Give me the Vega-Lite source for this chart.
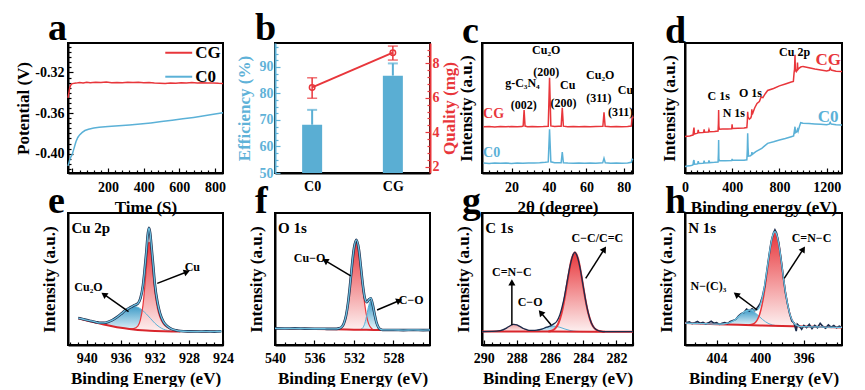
{
"$schema": "https://vega.github.io/schema/vega-lite/v6.json",
"padding": {"left": 13, "top": 8, "right": 0, "bottom": 0},
"background": "white",
"config": {
  "font": "Liberation Serif",
  "view": {"stroke": "black", "strokeWidth": 2},
  "axis": {"labelFont": "Liberation Serif", "labelFontWeight": "bold", "labelFontSize": 14, "labelColor": "black", "titleFont": "Liberation Serif", "titleFontWeight": "bold", "titleFontSize": 17, "titleColor": "black", "domainColor": "black", "domainWidth": 2, "tickColor": "black", "tickWidth": 1.2, "grid": false, "labelFlush": false, "labelOverlap": false},
  "axisX": {"titlePadding": 3},
  "title": {"font": "Liberation Serif", "fontWeight": "bold", "fontSize": 38, "anchor": "start", "frame": "group", "dx": -20, "offset": -8, "color": "black"},
  "text": {"font": "Liberation Serif", "fontWeight": "bold", "fontSize": 12, "color": "black"}
},
"datasets": {
  "pa": [
    {"s":"CG","x":-25,"y":-0.345},{"s":"CG","x":-20,"y":-0.340},{"s":"CG","x":-15,"y":-0.335},{"s":"CG","x":-10,"y":-0.3325},{"s":"CG","x":-5,"y":-0.3315},{"s":"CG","x":0,"y":-0.3310},{"s":"CG","x":20,"y":-0.3305},{"s":"CG","x":40,"y":-0.3298},{"s":"CG","x":60,"y":-0.3303},{"s":"CG","x":80,"y":-0.3296},{"s":"CG","x":100,"y":-0.3301},{"s":"CG","x":130,"y":-0.3297},{"s":"CG","x":160,"y":-0.3300},{"s":"CG","x":190,"y":-0.3295},{"s":"CG","x":220,"y":-0.3302},{"s":"CG","x":250,"y":-0.3298},{"s":"CG","x":280,"y":-0.3301},{"s":"CG","x":310,"y":-0.3296},{"s":"CG","x":340,"y":-0.3300},{"s":"CG","x":370,"y":-0.3297},{"s":"CG","x":400,"y":-0.3302},{"s":"CG","x":430,"y":-0.3299},{"s":"CG","x":460,"y":-0.3304},{"s":"CG","x":490,"y":-0.3306},{"s":"CG","x":520,"y":-0.3309},{"s":"CG","x":550,"y":-0.3304},{"s":"CG","x":580,"y":-0.3307},{"s":"CG","x":610,"y":-0.3302},{"s":"CG","x":640,"y":-0.3305},{"s":"CG","x":670,"y":-0.3300},{"s":"CG","x":700,"y":-0.3304},{"s":"CG","x":730,"y":-0.3301},{"s":"CG","x":760,"y":-0.3305},{"s":"CG","x":790,"y":-0.3303},{"s":"CG","x":820,"y":-0.3307},{"s":"CG","x":845,"y":-0.3309},
    {"s":"C0","x":-25,"y":-0.412},{"s":"C0","x":-20,"y":-0.409},{"s":"C0","x":-15,"y":-0.406},{"s":"C0","x":-10,"y":-0.4035},{"s":"C0","x":-5,"y":-0.402},{"s":"C0","x":0,"y":-0.400},{"s":"C0","x":5,"y":-0.397},{"s":"C0","x":10,"y":-0.394},{"s":"C0","x":15,"y":-0.391},{"s":"C0","x":20,"y":-0.388},{"s":"C0","x":30,"y":-0.384},{"s":"C0","x":40,"y":-0.3815},{"s":"C0","x":55,"y":-0.379},{"s":"C0","x":70,"y":-0.3772},{"s":"C0","x":90,"y":-0.3760},{"s":"C0","x":120,"y":-0.3748},{"s":"C0","x":150,"y":-0.3740},{"s":"C0","x":200,"y":-0.3732},{"s":"C0","x":260,"y":-0.3725},{"s":"C0","x":320,"y":-0.3717},{"s":"C0","x":380,"y":-0.3708},{"s":"C0","x":440,"y":-0.3697},{"s":"C0","x":500,"y":-0.3684},{"s":"C0","x":560,"y":-0.3671},{"s":"C0","x":620,"y":-0.3657},{"s":"C0","x":680,"y":-0.3643},{"s":"C0","x":740,"y":-0.3627},{"s":"C0","x":800,"y":-0.3610},{"s":"C0","x":845,"y":-0.3596}
  ],
  "legA": [
    {"s":"CG","x":521,"x2":672,"y":-0.3006},
    {"s":"C0","x":521,"x2":672,"y":-0.3242}
  ],
  "pb": [
    {"k":"C0","eff":68.2,"effHi":73.8,"q":6.60,"qLo":5.97,"qHi":7.16},
    {"k":"CG","eff":86.7,"effHi":91.3,"q":8.62,"qLo":8.19,"qHi":9.0}
  ],
  "pc": [
    {"s":"CG","x":5,"y":35.6},{"s":"CG","x":8,"y":35.8},{"s":"CG","x":11,"y":35.4},{"s":"CG","x":14,"y":35.7},{"s":"CG","x":17,"y":35.5},{"s":"CG","x":20,"y":35.8},{"s":"CG","x":23,"y":35.5},{"s":"CG","x":25.5,"y":35.7},{"s":"CG","x":26.2,"y":36.2},{"s":"CG","x":26.7,"y":48.5},{"s":"CG","x":27.2,"y":36.1},{"s":"CG","x":28.5,"y":35.6},{"s":"CG","x":31,"y":35.8},{"s":"CG","x":34,"y":35.5},{"s":"CG","x":37,"y":35.7},{"s":"CG","x":39.6,"y":36},{"s":"CG","x":40.3,"y":73.3},{"s":"CG","x":41,"y":36.2},{"s":"CG","x":43,"y":35.7},{"s":"CG","x":45,"y":35.9},{"s":"CG","x":46.5,"y":35.9},{"s":"CG","x":47.1,"y":50.2},{"s":"CG","x":47.7,"y":36},{"s":"CG","x":50,"y":35.6},{"s":"CG","x":53,"y":35.8},{"s":"CG","x":56,"y":35.5},{"s":"CG","x":59,"y":35.7},{"s":"CG","x":62,"y":35.6},{"s":"CG","x":65,"y":35.8},{"s":"CG","x":68.8,"y":35.9},{"s":"CG","x":69.4,"y":46.7},{"s":"CG","x":70,"y":35.9},{"s":"CG","x":73,"y":35.6},{"s":"CG","x":76,"y":35.8},{"s":"CG","x":79,"y":35.6},{"s":"CG","x":82,"y":35.8},{"s":"CG","x":84,"y":36.1},{"s":"CG","x":84.5,"y":44.6},{"s":"CG","x":84.9,"y":42},
    {"s":"C0","x":5,"y":7.6},{"s":"C0","x":8,"y":7.4},{"s":"C0","x":11,"y":7.7},{"s":"C0","x":14,"y":7.5},{"s":"C0","x":17,"y":7.6},{"s":"C0","x":20,"y":7.4},{"s":"C0","x":23,"y":7.6},{"s":"C0","x":26,"y":7.5},{"s":"C0","x":29,"y":7.7},{"s":"C0","x":32,"y":7.6},{"s":"C0","x":35,"y":7.8},{"s":"C0","x":38,"y":8.2},{"s":"C0","x":39.6,"y":8.5},{"s":"C0","x":40.3,"y":33.6},{"s":"C0","x":41,"y":8.6},{"s":"C0","x":43,"y":7.9},{"s":"C0","x":46.5,"y":7.8},{"s":"C0","x":47.1,"y":16},{"s":"C0","x":47.7,"y":7.9},{"s":"C0","x":50,"y":7.6},{"s":"C0","x":53,"y":7.5},{"s":"C0","x":56,"y":7.7},{"s":"C0","x":59,"y":7.5},{"s":"C0","x":62,"y":7.6},{"s":"C0","x":65,"y":7.5},{"s":"C0","x":68.7,"y":7.8},{"s":"C0","x":69.4,"y":11.3},{"s":"C0","x":70.1,"y":7.8},{"s":"C0","x":73,"y":7.5},{"s":"C0","x":76,"y":7.6},{"s":"C0","x":79,"y":7.5},{"s":"C0","x":82,"y":7.7},{"s":"C0","x":84,"y":8.2},{"s":"C0","x":84.5,"y":10.5},{"s":"C0","x":84.9,"y":10}
  ],
  "pd": [
    {"s":"CG","x":0,"y":28},{"s":"CG","x":20,"y":28.3},{"s":"CG","x":40,"y":28.5},{"s":"CG","x":60,"y":29},{"s":"CG","x":68,"y":29.2},{"s":"CG","x":72,"y":32.5},{"s":"CG","x":76,"y":35},{"s":"CG","x":80,"y":30},{"s":"CG","x":100,"y":30.5},{"s":"CG","x":108,"y":30.8},{"s":"CG","x":112,"y":33.2},{"s":"CG","x":116,"y":31},{"s":"CG","x":150,"y":31.2},{"s":"CG","x":158,"y":31.3},{"s":"CG","x":162,"y":33.5},{"s":"CG","x":166,"y":31.4},{"s":"CG","x":198,"y":31.6},{"s":"CG","x":203,"y":33.4},{"s":"CG","x":208,"y":31.8},{"s":"CG","x":250,"y":32},{"s":"CG","x":280,"y":32.3},{"s":"CG","x":283,"y":38},{"s":"CG","x":285,"y":48.5},{"s":"CG","x":287,"y":36},{"s":"CG","x":291,"y":33.6},{"s":"CG","x":320,"y":33.8},{"s":"CG","x":360,"y":33.9},{"s":"CG","x":396,"y":34},{"s":"CG","x":399,"y":37.5},{"s":"CG","x":402,"y":34.3},{"s":"CG","x":450,"y":34.4},{"s":"CG","x":500,"y":34.6},{"s":"CG","x":524,"y":35},{"s":"CG","x":528,"y":40},{"s":"CG","x":531,"y":47},{"s":"CG","x":534,"y":43},{"s":"CG","x":545,"y":41.5},{"s":"CG","x":558,"y":42.5},{"s":"CG","x":563,"y":44},{"s":"CG","x":566,"y":49},{"s":"CG","x":570,"y":45},{"s":"CG","x":590,"y":50},{"s":"CG","x":610,"y":53.5},{"s":"CG","x":630,"y":55},{"s":"CG","x":645,"y":58.5},{"s":"CG","x":660,"y":58},{"s":"CG","x":680,"y":61},{"s":"CG","x":700,"y":63.5},{"s":"CG","x":750,"y":65},{"s":"CG","x":800,"y":67},{"s":"CG","x":850,"y":68.5},{"s":"CG","x":900,"y":70},{"s":"CG","x":918,"y":70.5},{"s":"CG","x":924,"y":77},{"s":"CG","x":928,"y":80},{"s":"CG","x":932,"y":91},{"s":"CG","x":935,"y":79},{"s":"CG","x":942,"y":78},{"s":"CG","x":950,"y":80},{"s":"CG","x":953,"y":85},{"s":"CG","x":956,"y":79.5},{"s":"CG","x":965,"y":80.5},{"s":"CG","x":980,"y":81.5},{"s":"CG","x":1000,"y":82},{"s":"CG","x":1050,"y":81},{"s":"CG","x":1100,"y":80},{"s":"CG","x":1150,"y":79.3},{"s":"CG","x":1200,"y":78.5},{"s":"CG","x":1222,"y":79},{"s":"CG","x":1230,"y":80.8},{"s":"CG","x":1238,"y":79.2},{"s":"CG","x":1280,"y":78.3},{"s":"CG","x":1330,"y":78},
    {"s":"C0","x":0,"y":5},{"s":"C0","x":20,"y":5.3},{"s":"C0","x":40,"y":5.5},{"s":"C0","x":60,"y":6},{"s":"C0","x":68,"y":6.3},{"s":"C0","x":72,"y":9},{"s":"C0","x":76,"y":10},{"s":"C0","x":80,"y":6.8},{"s":"C0","x":100,"y":7},{"s":"C0","x":108,"y":7.2},{"s":"C0","x":112,"y":9.2},{"s":"C0","x":116,"y":7.3},{"s":"C0","x":150,"y":7.5},{"s":"C0","x":158,"y":7.6},{"s":"C0","x":162,"y":9.6},{"s":"C0","x":166,"y":7.7},{"s":"C0","x":198,"y":7.8},{"s":"C0","x":203,"y":9.7},{"s":"C0","x":208,"y":8},{"s":"C0","x":250,"y":8.2},{"s":"C0","x":280,"y":8.5},{"s":"C0","x":283,"y":15},{"s":"C0","x":285,"y":25.4},{"s":"C0","x":287,"y":11},{"s":"C0","x":291,"y":9.5},{"s":"C0","x":340,"y":9.5},{"s":"C0","x":396,"y":9.6},{"s":"C0","x":399,"y":10.8},{"s":"C0","x":402,"y":9.8},{"s":"C0","x":450,"y":9.8},{"s":"C0","x":500,"y":9.9},{"s":"C0","x":524,"y":10.2},{"s":"C0","x":528,"y":18},{"s":"C0","x":531,"y":30.5},{"s":"C0","x":534,"y":20},{"s":"C0","x":538,"y":13},{"s":"C0","x":555,"y":13.3},{"s":"C0","x":563,"y":14},{"s":"C0","x":567,"y":16},{"s":"C0","x":572,"y":14.5},{"s":"C0","x":600,"y":16.5},{"s":"C0","x":650,"y":19},{"s":"C0","x":700,"y":22.8},{"s":"C0","x":750,"y":24},{"s":"C0","x":800,"y":25.4},{"s":"C0","x":850,"y":26.5},{"s":"C0","x":900,"y":27.9},{"s":"C0","x":920,"y":28.5},{"s":"C0","x":926,"y":32},{"s":"C0","x":932,"y":35.6},{"s":"C0","x":936,"y":31},{"s":"C0","x":945,"y":31.5},{"s":"C0","x":953,"y":33.5},{"s":"C0","x":958,"y":32},{"s":"C0","x":970,"y":36},{"s":"C0","x":980,"y":38.7},{"s":"C0","x":1000,"y":38.3},{"s":"C0","x":1050,"y":38},{"s":"C0","x":1100,"y":37.7},{"s":"C0","x":1150,"y":37.5},{"s":"C0","x":1200,"y":37.2},{"s":"C0","x":1222,"y":37.6},{"s":"C0","x":1230,"y":39},{"s":"C0","x":1238,"y":37.6},{"s":"C0","x":1280,"y":37.2},{"s":"C0","x":1330,"y":36.9}
  ],
  "pe": [
    {"s":"bg","x":941,"y":20.2},{"s":"bg","x":940,"y":18.6},{"s":"bg","x":939,"y":17.1},{"s":"bg","x":938,"y":15.6},{"s":"bg","x":937,"y":14.2},{"s":"bg","x":936,"y":13},{"s":"bg","x":935,"y":12.1},{"s":"bg","x":934,"y":11.4},{"s":"bg","x":933,"y":10.9},{"s":"bg","x":932,"y":10.6},{"s":"bg","x":931,"y":10.4},{"s":"bg","x":930,"y":10.3},{"s":"bg","x":929,"y":10.2},
    {"s":"c2","x":938.5,"y":16.2,"b":15.9},{"s":"c2","x":938,"y":16.6,"b":15.6},{"s":"c2","x":937.5,"y":17.4,"b":14.9},{"s":"c2","x":937,"y":18.8,"b":14.2},{"s":"c2","x":936.5,"y":20.8,"b":13.6},{"s":"c2","x":936,"y":23.3,"b":13},{"s":"c2","x":935.5,"y":26,"b":12.5},{"s":"c2","x":935,"y":28,"b":12.1},{"s":"c2","x":934.5,"y":29.2,"b":11.7},{"s":"c2","x":934,"y":28.5,"b":11.4},{"s":"c2","x":933.5,"y":26.5,"b":11.1},{"s":"c2","x":933,"y":23.5,"b":10.9},{"s":"c2","x":932.5,"y":20,"b":10.7},{"s":"c2","x":932,"y":16.5,"b":10.6},{"s":"c2","x":931.5,"y":13.8,"b":10.5},{"s":"c2","x":931,"y":12,"b":10.4},{"s":"c2","x":930.5,"y":11,"b":10.35},{"s":"c2","x":930,"y":10.4,"b":10.3},
    {"s":"c1","x":935,"y":12.1,"b":12.1},{"s":"c1","x":934.5,"y":12.4,"b":11.7},{"s":"c1","x":934,"y":14.3,"b":11.4},{"s":"c1","x":933.7,"y":19,"b":11.2},{"s":"c1","x":933.4,"y":30,"b":11.05},{"s":"c1","x":933.2,"y":43,"b":10.95},{"s":"c1","x":933,"y":58,"b":10.9},{"s":"c1","x":932.85,"y":71,"b":10.8},{"s":"c1","x":932.7,"y":78,"b":10.75},{"s":"c1","x":932.55,"y":75,"b":10.7},{"s":"c1","x":932.4,"y":66,"b":10.65},{"s":"c1","x":932.2,"y":53,"b":10.6},{"s":"c1","x":932,"y":40,"b":10.6},{"s":"c1","x":931.7,"y":28,"b":10.5},{"s":"c1","x":931.4,"y":21,"b":10.45},{"s":"c1","x":931,"y":16,"b":10.4},{"s":"c1","x":930.5,"y":13.2,"b":10.35},{"s":"c1","x":930,"y":11.8,"b":10.3},{"s":"c1","x":929.5,"y":11,"b":10.2},{"s":"c1","x":929,"y":10.5,"b":10.2},
    {"s":"env","x":941,"y":20.4},{"s":"env","x":940.5,"y":19.7},{"s":"env","x":940,"y":18.9},{"s":"env","x":939.5,"y":18.2},{"s":"env","x":939,"y":17.5},{"s":"env","x":938.5,"y":16.8},{"s":"env","x":938,"y":16.8},{"s":"env","x":937.5,"y":17.5},{"s":"env","x":937,"y":18.9},{"s":"env","x":936.5,"y":20.9},{"s":"env","x":936,"y":23.4},{"s":"env","x":935.5,"y":26.1},{"s":"env","x":935,"y":28},{"s":"env","x":934.5,"y":29.9},{"s":"env","x":934,"y":31.4},{"s":"env","x":933.7,"y":35.3},{"s":"env","x":933.4,"y":45},{"s":"env","x":933.2,"y":57},{"s":"env","x":933,"y":70.7},{"s":"env","x":932.85,"y":82.7},{"s":"env","x":932.7,"y":88.8},{"s":"env","x":932.55,"y":84.8},{"s":"env","x":932.4,"y":74.7},{"s":"env","x":932.2,"y":60.5},{"s":"env","x":932,"y":46},{"s":"env","x":931.7,"y":32.5},{"s":"env","x":931.4,"y":24.1},{"s":"env","x":931,"y":17.7},{"s":"env","x":930.5,"y":14},{"s":"env","x":930,"y":12},{"s":"env","x":929.5,"y":11.1},{"s":"env","x":929,"y":10.6},{"s":"env","x":928,"y":10.3},{"s":"env","x":927,"y":10.2},{"s":"env","x":926,"y":10.3},{"s":"env","x":925,"y":10.1},{"s":"env","x":924.2,"y":10.4}
  ],
  "pf": [
    {"s":"bg","x":536,"y":12.1},{"s":"bg","x":534,"y":11.9},{"s":"bg","x":532,"y":11.6},{"s":"bg","x":530,"y":11.4},{"s":"bg","x":528,"y":11.3},{"s":"bg","x":526,"y":11.3},
    {"s":"c1","x":534,"y":11.9,"b":11.9},{"s":"c1","x":533.5,"y":12.3,"b":11.85},{"s":"c1","x":533.2,"y":13.8,"b":11.8},{"s":"c1","x":533,"y":16.7,"b":11.75},{"s":"c1","x":532.8,"y":22.2,"b":11.7},{"s":"c1","x":532.6,"y":31.7,"b":11.7},{"s":"c1","x":532.4,"y":45.1,"b":11.65},{"s":"c1","x":532.2,"y":60.2,"b":11.65},{"s":"c1","x":532,"y":73.1,"b":11.6},{"s":"c1","x":531.76,"y":79.5,"b":11.6},{"s":"c1","x":531.5,"y":72,"b":11.55},{"s":"c1","x":531.3,"y":58.5,"b":11.55},{"s":"c1","x":531.1,"y":43.5,"b":11.5},{"s":"c1","x":530.9,"y":30.3,"b":11.5},{"s":"c1","x":530.7,"y":21.1,"b":11.45},{"s":"c1","x":530.5,"y":15.8,"b":11.45},{"s":"c1","x":530.2,"y":12.4,"b":11.4},{"s":"c1","x":530,"y":11.5,"b":11.4},
    {"s":"c2","x":531.3,"y":11.9,"b":11.55},{"s":"c2","x":531.1,"y":13.1,"b":11.5},{"s":"c2","x":530.9,"y":16.5,"b":11.5},{"s":"c2","x":530.7,"y":22.8,"b":11.45},{"s":"c2","x":530.5,"y":30,"b":11.45},{"s":"c2","x":530.3,"y":33.3,"b":11.4},{"s":"c2","x":530.1,"y":30,"b":11.4},{"s":"c2","x":529.9,"y":22.8,"b":11.4},{"s":"c2","x":529.7,"y":16.5,"b":11.35},{"s":"c2","x":529.5,"y":13.1,"b":11.35},{"s":"c2","x":529.3,"y":11.8,"b":11.35},{"s":"c2","x":529.1,"y":11.4,"b":11.3},
    {"s":"env","x":540,"y":12.6},{"s":"env","x":539,"y":12.5},{"s":"env","x":538,"y":12.6},{"s":"env","x":537,"y":12.4},{"s":"env","x":536,"y":12.3},{"s":"env","x":535,"y":12.3},{"s":"env","x":534.5,"y":12.2},{"s":"env","x":534,"y":12.2},{"s":"env","x":533.5,"y":12.6},{"s":"env","x":533.2,"y":14},{"s":"env","x":533,"y":16.9},{"s":"env","x":532.8,"y":22.4},{"s":"env","x":532.6,"y":31.9},{"s":"env","x":532.4,"y":45.3},{"s":"env","x":532.2,"y":60.4},{"s":"env","x":532,"y":73.3},{"s":"env","x":531.76,"y":79.7},{"s":"env","x":531.5,"y":72.2},{"s":"env","x":531.3,"y":59},{"s":"env","x":531.1,"y":45.2},{"s":"env","x":530.9,"y":35.4},{"s":"env","x":530.7,"y":32.5},{"s":"env","x":530.5,"y":34.4},{"s":"env","x":530.3,"y":35.4},{"s":"env","x":530.1,"y":30.6},{"s":"env","x":529.9,"y":22.9},{"s":"env","x":529.7,"y":16.5},{"s":"env","x":529.5,"y":13.1},{"s":"env","x":529.3,"y":11.8},{"s":"env","x":529.1,"y":11.4},{"s":"env","x":528,"y":11.4},{"s":"env","x":527,"y":11.3},{"s":"env","x":526,"y":11.4},{"s":"env","x":525,"y":11.3},{"s":"env","x":524.3,"y":11.4}
  ],
  "pg": [
    {"s":"bg","x":290.1,"y":10.3},{"s":"bg","x":286,"y":10.2},{"s":"bg","x":281,"y":10},
    {"s":"c3","x":289.4,"y":10.2,"b":10.2},{"s":"c3","x":289,"y":10.8,"b":10.2},{"s":"c3","x":288.8,"y":11.6,"b":10.2},{"s":"c3","x":288.6,"y":13,"b":10.2},{"s":"c3","x":288.4,"y":14.6,"b":10.2},{"s":"c3","x":288.2,"y":15.7,"b":10.2},{"s":"c3","x":288,"y":15.2,"b":10.2},{"s":"c3","x":287.8,"y":13.8,"b":10.2},{"s":"c3","x":287.6,"y":12.3,"b":10.2},{"s":"c3","x":287.4,"y":11.2,"b":10.2},{"s":"c3","x":287.2,"y":10.6,"b":10.2},{"s":"c3","x":286.8,"y":10.2,"b":10.2},
    {"s":"c2","x":287.2,"y":10.3,"b":10.2},{"s":"c2","x":286.8,"y":11,"b":10.2},{"s":"c2","x":286.5,"y":12,"b":10.2},{"s":"c2","x":286.2,"y":13.3,"b":10.2},{"s":"c2","x":285.8,"y":14.4,"b":10.15},{"s":"c2","x":285.4,"y":13.4,"b":10.15},{"s":"c2","x":285.1,"y":12.1,"b":10.15},{"s":"c2","x":284.8,"y":11,"b":10.1},{"s":"c2","x":284.4,"y":10.3,"b":10.1},{"s":"c2","x":284,"y":10.1,"b":10.1},
    {"s":"c1","x":286.1,"y":10.3,"b":10.2},{"s":"c1","x":285.9,"y":10.8,"b":10.15},{"s":"c1","x":285.7,"y":12.4,"b":10.15},{"s":"c1","x":285.5,"y":16.3,"b":10.15},{"s":"c1","x":285.3,"y":24.2,"b":10.15},{"s":"c1","x":285.1,"y":36.7,"b":10.15},{"s":"c1","x":284.9,"y":51.9,"b":10.1},{"s":"c1","x":284.7,"y":64.9,"b":10.1},{"s":"c1","x":284.5,"y":70.1,"b":10.1},{"s":"c1","x":284.3,"y":64.9,"b":10.1},{"s":"c1","x":284.1,"y":51.9,"b":10.1},{"s":"c1","x":283.9,"y":36.7,"b":10.1},{"s":"c1","x":283.7,"y":24.2,"b":10.1},{"s":"c1","x":283.5,"y":16.3,"b":10.1},{"s":"c1","x":283.3,"y":12.4,"b":10.1},{"s":"c1","x":283.1,"y":10.8,"b":10.05},{"s":"c1","x":282.9,"y":10.3,"b":10.05},{"s":"c1","x":282.7,"y":10.1,"b":10.05},
    {"s":"env","x":290.1,"y":10.2},{"s":"env","x":289.5,"y":10.3},{"s":"env","x":289,"y":10.9},{"s":"env","x":288.6,"y":13},{"s":"env","x":288.4,"y":14.6},{"s":"env","x":288.2,"y":15.7},{"s":"env","x":288,"y":15.2},{"s":"env","x":287.8,"y":13.9},{"s":"env","x":287.6,"y":12.5},{"s":"env","x":287.4,"y":11.6},{"s":"env","x":287.2,"y":11.1},{"s":"env","x":287,"y":11.1},{"s":"env","x":286.8,"y":11.3},{"s":"env","x":286.5,"y":12.1},{"s":"env","x":286.2,"y":13.5},{"s":"env","x":286,"y":14.3},{"s":"env","x":285.8,"y":15.8},{"s":"env","x":285.6,"y":17.8},{"s":"env","x":285.4,"y":23.2},{"s":"env","x":285.2,"y":32.6},{"s":"env","x":285,"y":45.9},{"s":"env","x":284.8,"y":59.6},{"s":"env","x":284.6,"y":68.7},{"s":"env","x":284.5,"y":70.4},{"s":"env","x":284.4,"y":68.3},{"s":"env","x":284.2,"y":59},{"s":"env","x":284,"y":44.5},{"s":"env","x":283.8,"y":30.2},{"s":"env","x":283.6,"y":19.9},{"s":"env","x":283.4,"y":14},{"s":"env","x":283.2,"y":11.5},{"s":"env","x":283,"y":10.5},{"s":"env","x":282.8,"y":10.2},{"s":"env","x":282,"y":10.1},{"s":"env","x":281,"y":10.1}
  ],
  "ph": [
    {"s":"bg","x":406.9,"y":16.6},{"s":"bg","x":404,"y":15.8},{"s":"bg","x":402,"y":15.3},{"s":"bg","x":400,"y":14.8},{"s":"bg","x":398,"y":14.4},{"s":"bg","x":396,"y":14},{"s":"bg","x":394,"y":13.6},{"s":"bg","x":392.5,"y":13.3},
    {"s":"c1","x":401.05,"y":15.2,"b":15.05},{"s":"c1","x":400.65,"y":15.9,"b":14.95},{"s":"c1","x":400.45,"y":17,"b":14.9},{"s":"c1","x":400.25,"y":19.3,"b":14.86},{"s":"c1","x":400.05,"y":23.3,"b":14.81},{"s":"c1","x":399.85,"y":29.8,"b":14.76},{"s":"c1","x":399.65,"y":38.8,"b":14.7},{"s":"c1","x":399.45,"y":50.2,"b":14.66},{"s":"c1","x":399.25,"y":62.7,"b":14.6},{"s":"c1","x":399.05,"y":74.3,"b":14.56},{"s":"c1","x":398.85,"y":82.5,"b":14.5},{"s":"c1","x":398.65,"y":85.5,"b":14.46},{"s":"c1","x":398.45,"y":82.4,"b":14.4},{"s":"c1","x":398.25,"y":74.1,"b":14.36},{"s":"c1","x":398.05,"y":62.4,"b":14.3},{"s":"c1","x":397.85,"y":49.8,"b":14.26},{"s":"c1","x":397.65,"y":38.3,"b":14.2},{"s":"c1","x":397.45,"y":29.2,"b":14.16},{"s":"c1","x":397.25,"y":22.6,"b":14.1},{"s":"c1","x":397.05,"y":18.5,"b":14.06},{"s":"c1","x":396.85,"y":16.1,"b":14},{"s":"c1","x":396.65,"y":14.9,"b":13.96},{"s":"c1","x":396.25,"y":13.9,"b":13.9},
    {"s":"c2","x":403.7,"y":15.8,"b":15.7},{"s":"c2","x":403.4,"y":15.9,"b":15.6},{"s":"c2","x":403.1,"y":16.3,"b":15.55},{"s":"c2","x":402.8,"y":17,"b":15.5},{"s":"c2","x":402.5,"y":18.2,"b":15.4},{"s":"c2","x":402.2,"y":19.9,"b":15.35},{"s":"c2","x":401.9,"y":22.2,"b":15.27},{"s":"c2","x":401.6,"y":24.2,"b":15.2},{"s":"c2","x":401.3,"y":25.8,"b":15.12},{"s":"c2","x":401,"y":26.4,"b":15.05},{"s":"c2","x":400.7,"y":25.7,"b":14.97},{"s":"c2","x":400.4,"y":23.9,"b":14.9},{"s":"c2","x":400.1,"y":21.7,"b":14.82},{"s":"c2","x":399.8,"y":19.4,"b":14.75},{"s":"c2","x":399.5,"y":17.5,"b":14.67},{"s":"c2","x":399.2,"y":16.1,"b":14.6},{"s":"c2","x":398.9,"y":15.2,"b":14.52},{"s":"c2","x":398.6,"y":14.75,"b":14.45},{"s":"c2","x":398.3,"y":14.4,"b":14.4},
    {"s":"env","x":406.9,"y":16.6},{"s":"env","x":406,"y":16.3},{"s":"env","x":405,"y":16.1},{"s":"env","x":404,"y":15.8},{"s":"env","x":403.4,"y":15.9},{"s":"env","x":403.1,"y":16.3},{"s":"env","x":402.8,"y":17},{"s":"env","x":402.5,"y":18.2},{"s":"env","x":402.2,"y":19.9},{"s":"env","x":401.9,"y":22.2},{"s":"env","x":401.6,"y":24.2},{"s":"env","x":401.3,"y":25.8},{"s":"env","x":401,"y":26.5},{"s":"env","x":400.7,"y":26.5},{"s":"env","x":400.4,"y":26.4},{"s":"env","x":400.1,"y":28.2},{"s":"env","x":399.85,"y":34.6},{"s":"env","x":399.65,"y":42.5},{"s":"env","x":399.45,"y":53.1},{"s":"env","x":399.25,"y":64.5},{"s":"env","x":399.05,"y":75.3},{"s":"env","x":398.85,"y":83.1},{"s":"env","x":398.65,"y":85.8},{"s":"env","x":398.45,"y":82.5},{"s":"env","x":398.25,"y":74.1},{"s":"env","x":398.05,"y":62.4},{"s":"env","x":397.85,"y":49.8},{"s":"env","x":397.65,"y":38.3},{"s":"env","x":397.45,"y":29.2},{"s":"env","x":397.25,"y":22.6},{"s":"env","x":397.05,"y":18.5},{"s":"env","x":396.85,"y":16.1},{"s":"env","x":396.65,"y":14.9},{"s":"env","x":396.25,"y":13.9},{"s":"env","x":395,"y":13.7},{"s":"env","x":394,"y":13.6},{"s":"env","x":393,"y":13.4},{"s":"env","x":392.5,"y":13.3},
    {"s":"raw","x":406.8,"y":16.8},{"s":"raw","x":406.5,"y":17.5},{"s":"raw","x":406.25,"y":16.2},{"s":"raw","x":406,"y":16.9},{"s":"raw","x":405.75,"y":17.8},{"s":"raw","x":405.5,"y":16.4},{"s":"raw","x":405.25,"y":17.2},{"s":"raw","x":405,"y":15.9},{"s":"raw","x":404.75,"y":16.8},{"s":"raw","x":404.5,"y":18},{"s":"raw","x":404.25,"y":16.5},{"s":"raw","x":404,"y":16.9},{"s":"raw","x":403.75,"y":15.6},{"s":"raw","x":403.5,"y":16.4},{"s":"raw","x":403.25,"y":17},{"s":"raw","x":403,"y":16.2},{"s":"raw","x":402.75,"y":17.8},{"s":"raw","x":402.5,"y":18.6},{"s":"raw","x":402.25,"y":19.4},{"s":"raw","x":402,"y":22},{"s":"raw","x":401.75,"y":23.8},{"s":"raw","x":401.5,"y":24.6},{"s":"raw","x":401.25,"y":27.2},{"s":"raw","x":401,"y":25.8},{"s":"raw","x":400.75,"y":27.4},{"s":"raw","x":400.5,"y":26},{"s":"raw","x":400.25,"y":28.3},{"s":"raw","x":400,"y":31.5},{"s":"raw","x":399.8,"y":36.8},{"s":"raw","x":399.6,"y":44.3},{"s":"raw","x":399.4,"y":56},{"s":"raw","x":399.2,"y":67.5},{"s":"raw","x":399,"y":78.2},{"s":"raw","x":398.8,"y":84.6},{"s":"raw","x":398.65,"y":87.2},{"s":"raw","x":398.5,"y":84.8},{"s":"raw","x":398.3,"y":77.5},{"s":"raw","x":398.1,"y":65.8},{"s":"raw","x":397.9,"y":52.6},{"s":"raw","x":397.7,"y":40.1},{"s":"raw","x":397.5,"y":31.2},{"s":"raw","x":397.3,"y":23.6},{"s":"raw","x":397.1,"y":18.2},{"s":"raw","x":396.9,"y":16.7},{"s":"raw","x":396.7,"y":10.5},{"s":"raw","x":396.6,"y":15.8},{"s":"raw","x":396.4,"y":14.2},{"s":"raw","x":396.2,"y":11.9},{"s":"raw","x":396,"y":14.8},{"s":"raw","x":395.75,"y":13.2},{"s":"raw","x":395.5,"y":15.6},{"s":"raw","x":395.25,"y":12.4},{"s":"raw","x":395,"y":14.9},{"s":"raw","x":394.75,"y":13.1},{"s":"raw","x":394.5,"y":16.4},{"s":"raw","x":394.25,"y":14},{"s":"raw","x":394,"y":12.8},{"s":"raw","x":393.75,"y":15.2},{"s":"raw","x":393.5,"y":13.5},{"s":"raw","x":393.25,"y":14.7},{"s":"raw","x":393,"y":13},{"s":"raw","x":392.75,"y":14.3},{"s":"raw","x":392.6,"y":13.7}
  ],
  "txt": [
    {"p":"a","k":"leg","x":689,"y":-0.3006,"t":"CG"},{"p":"a","k":"leg","x":689,"y":-0.3242,"t":"C0"},
    {"p":"c","k":"ann","x":38.5,"y":94.6,"t":"Cu₂O"},{"p":"c","k":"ann","x":38.5,"y":77.7,"t":"(200)"},{"p":"c","k":"ann","x":25.8,"y":69.5,"t":"g-C₃N₄"},{"p":"c","k":"ann","x":26.5,"y":52.3,"t":"(002)"},{"p":"c","k":"ann","x":50,"y":67.7,"t":"Cu"},{"p":"c","k":"ann","x":47.8,"y":53.8,"t":"(200)"},{"p":"c","k":"ann","x":67.4,"y":75.4,"t":"Cu₂O"},{"p":"c","k":"ann","x":66.7,"y":57.7,"t":"(311)"},{"p":"c","k":"ann","x":80.9,"y":63.8,"t":"Cu"},{"p":"c","k":"ann","x":78.3,"y":46.9,"t":"(311)"},
    {"p":"c","k":"CG","x":4.8,"y":45.4,"t":"CG"},{"p":"c","k":"C0","x":4.8,"y":15.6,"t":"C0"},
    {"p":"d","k":"ann","x":928,"y":93,"t":"Cu 2p"},{"p":"d","k":"ann","x":286,"y":59.2,"t":"C 1s"},{"p":"d","k":"ann","x":554,"y":61.5,"t":"O 1s"},{"p":"d","k":"ann","x":414,"y":46.2,"t":"N 1s"},
    {"p":"d","k":"CG","x":1213,"y":87,"t":"CG"},{"p":"d","k":"C0","x":1213,"y":43,"t":"C0"},
    {"p":"e","k":"lab","x":941.8,"y":88.6,"t":"Cu 2p"},{"p":"e","k":"ann","x":927.6,"y":59,"t":"Cu"},{"p":"e","k":"ann","x":939.8,"y":44,"t":"Cu₂O"},
    {"p":"f","k":"lab","x":539.7,"y":88.6,"t":"O 1s"},{"p":"f","k":"ann","x":536.5,"y":66,"t":"Cu−O"},{"p":"f","k":"ann","x":526.2,"y":34.1,"t":"C−O"},
    {"p":"g","k":"lab","x":289.9,"y":88.6,"t":"C 1s"},{"p":"g","k":"ann","x":283.15,"y":80.8,"t":"C−C/C=C"},{"p":"g","k":"ann","x":288.3,"y":55,"t":"C=N−C"},{"p":"g","k":"ann","x":287.2,"y":32.8,"t":"C−O"},
    {"p":"h","k":"lab","x":406.6,"y":88.6,"t":"N 1s"},{"p":"h","k":"ann","x":395.3,"y":81.3,"t":"C=N−C"},{"p":"h","k":"ann","x":404.75,"y":44.7,"t":"N−(C)₃"}
  ],
  "arr": [
    {"p":"e","id":"e1","x":928.35,"y":55.1,"x2":931.72,"y2":46.7},
    {"p":"e","id":"e2","x":937.88,"y":37.9,"x2":935.09,"y2":25.2},
    {"p":"f","id":"f1","x":534.83,"y":63.6,"x2":532.33,"y2":52.3},
    {"p":"f","id":"f2","x":527.5,"y":33.3,"x2":529.66,"y2":26.5},
    {"p":"g","id":"g1","x":282.76,"y":71.97,"x2":283.85,"y2":50.5},
    {"p":"g","id":"g2","x":288.3,"y":46.7,"x2":288.3,"y2":15.2},
    {"p":"g","id":"g3","x":286.52,"y":24,"x2":285.93,"y2":15.2},
    {"p":"h","id":"h1","x":396.1,"y":72,"x2":397.8,"y2":50.5},
    {"p":"h","id":"h2","x":402.13,"y":37.9,"x2":400.28,"y2":26.5}
  ]
},
"bounds": "flush",
"columns": 4,
"spacing": {"row": 40, "column": 52},
"concat": [
  {
    "width": 155, "height": 130, "title": {"text": "a"},
    "encoding": {
      "x": {"field": "x", "type": "quantitative", "scale": {"domain": [-25, 845], "nice": false, "zero": false},
        "axis": {"title": "Time (S)", "values": [0,40,80,120,160,200,240,280,320,360,400,440,480,520,560,600,640,680,720,760,800,840], "labelExpr": "datum.value % 200 === 0 && datum.value > 0 ? datum.label : ''", "tickSize": {"condition": {"test": "datum.value % 200 === 0", "value": -5}, "value": -3}, "labelPadding": 12}},
      "y": {"field": "y", "type": "quantitative", "scale": {"domain": [-0.419, -0.291], "nice": false, "zero": false},
        "axis": {"title": "Potential (V)", "format": ".2f", "values": [-0.415,-0.41,-0.405,-0.4,-0.395,-0.39,-0.385,-0.38,-0.375,-0.37,-0.365,-0.36,-0.355,-0.35,-0.345,-0.34,-0.335,-0.33,-0.325,-0.32,-0.315,-0.31,-0.305,-0.3,-0.295], "labelExpr": "abs(datum.value*100 - round(datum.value*100)) < 0.001 && round(datum.value*100) % 4 === 0 ? replace(datum.label, '−', '-') : ''", "tickSize": {"condition": {"test": "abs(datum.value*100 - round(datum.value*100)) < 0.001 && round(datum.value*100) % 4 === 0", "value": -5}, "value": -3}, "labelPadding": 9, "titlePadding": 2}}
    },
    "layer": [
      {"data": {"name": "pa"}, "mark": {"type": "line", "strokeWidth": 1.5},
       "encoding": {"color": {"field": "s", "type": "nominal", "scale": {"domain": ["CG", "C0"], "range": ["#e8363b", "#5bb1d7"]}, "legend": null}}},
      {"data": {"name": "legA"}, "mark": {"type": "rule", "strokeWidth": 2},
       "encoding": {"x2": {"field": "x2"}, "color": {"field": "s", "type": "nominal", "legend": null}}},
      {"data": {"name": "txt"}, "transform": [{"filter": "datum.p === 'a' && datum.k === 'leg'"}], "mark": {"type": "text", "fontSize": 17, "align": "left"}, "encoding": {"text": {"field": "t"}}}
    ]
  },
  {
    "width": 155, "height": 130, "title": {"text": "b"},
    "data": {"name": "pb"},
    "encoding": {"x": {"field": "k", "type": "nominal", "scale": {"type": "point", "padding": 0.46}, "axis": {"title": null, "labelAngle": 0, "ticks": false, "labelPadding": 6, "labelFontSize": 14}}},
    "layer": [
      {"encoding": {"y": {"field": "eff", "type": "quantitative", "scale": {"domain": [50, 99], "nice": false, "zero": false},
          "axis": {"title": "Efficiency (%)", "values": [50,52.5,55,57.5,60,62.5,65,67.5,70,72.5,75,77.5,80,82.5,85,87.5,90,92.5,95,97.5], "format": ".0f", "labelExpr": "datum.value % 10 === 0 ? datum.label : ''", "tickSize": {"condition": {"test": "datum.value % 10 === 0", "value": -5}, "value": -3}, "labelPadding": 7, "labelColor": "#5fb2d8", "titleColor": "#5fb2d8", "domainColor": "#5fb2d8", "tickColor": "#5fb2d8", "titlePadding": 6}}},
        "layer": [
          {"mark": {"type": "bar", "size": 20, "color": "#5aaed3"}, "encoding": {"y2": {"datum": 50}}},
          {"mark": {"type": "rule", "color": "#5aaed3", "strokeWidth": 2}, "encoding": {"y2": {"field": "effHi"}}},
          {"mark": {"type": "tick", "color": "#5aaed3", "thickness": 2, "size": 10}, "encoding": {"y": {"field": "effHi", "type": "quantitative", "title": "Efficiency (%)"}}}
        ]},
      {"encoding": {"y": {"field": "q", "type": "quantitative", "scale": {"domain": [1.63, 9.18], "nice": false, "zero": false},
          "axis": {"orient": "right", "title": "Quality (mg)", "titleAngle": 270, "titleBaseline": "top", "format": ".0f", "values": [2,2.4,2.8,3.2,3.6,4,4.4,4.8,5.2,5.6,6,6.4,6.8,7.2,7.6,8,8.4,8.8], "labelExpr": "abs(datum.value - round(datum.value)) < 0.001 && round(datum.value) % 2 === 0 ? datum.label : ''", "tickSize": {"condition": {"test": "abs(datum.value - round(datum.value)) < 0.001 && round(datum.value) % 2 === 0", "value": -5}, "value": -3}, "labelPadding": 7, "labelColor": "#e8363b", "titleColor": "#e8363b", "domainColor": "#e8363b", "tickColor": "#e8363b", "titlePadding": 2}}},
        "layer": [
          {"mark": {"type": "rule", "color": "#e8363b", "strokeWidth": 1.5}, "encoding": {"y": {"field": "qLo", "type": "quantitative", "title": "Quality (mg)"}, "y2": {"field": "qHi"}}},
          {"mark": {"type": "tick", "color": "#e8363b", "thickness": 1.5, "size": 10}, "encoding": {"y": {"field": "qLo", "type": "quantitative", "title": "Quality (mg)"}}},
          {"mark": {"type": "tick", "color": "#e8363b", "thickness": 1.5, "size": 10}, "encoding": {"y": {"field": "qHi", "type": "quantitative", "title": "Quality (mg)"}}},
          {"mark": {"type": "line", "color": "#e8363b", "strokeWidth": 2, "point": {"filled": false, "size": 30, "strokeWidth": 1.5, "color": "#e8363b"}}}
        ]}
    ],
    "resolve": {"scale": {"y": "independent"}}
  },
  {
    "width": 151, "height": 130, "title": {"text": "c"},
    "encoding": {
      "x": {"field": "x", "type": "quantitative", "scale": {"domain": [4.2, 84.9], "nice": false, "zero": false},
        "axis": {"title": "2θ (degree)", "values": [8,12,16,20,24,28,32,36,40,44,48,52,56,60,64,68,72,76,80,84], "labelExpr": "datum.value % 20 === 0 ? datum.label : ''", "tickSize": {"condition": {"test": "datum.value % 20 === 0", "value": -5}, "value": -3}, "labelPadding": 12}},
      "y": {"field": "y", "type": "quantitative", "scale": {"domain": [0, 100], "nice": false}, "axis": {"title": "Intensity (a.u.)", "labels": false, "ticks": false, "titlePadding": 7}}
    },
    "layer": [
      {"data": {"name": "pc"}, "transform": [{"filter": "datum.s === 'CG'"}], "mark": {"type": "line", "color": "#e8363b", "strokeWidth": 1.5}},
      {"data": {"name": "pc"}, "transform": [{"filter": "datum.s === 'C0'"}], "mark": {"type": "line", "color": "#5bb1d7", "strokeWidth": 1.5}},
      {"data": {"name": "txt"}, "transform": [{"filter": "datum.p === 'c' && datum.k === 'ann'"}], "mark": {"type": "text", "fontSize": 12}, "encoding": {"text": {"field": "t"}}},
      {"data": {"name": "txt"}, "transform": [{"filter": "datum.p === 'c' && datum.k === 'CG'"}], "mark": {"type": "text", "fontSize": 14, "align": "left", "color": "#e8363b"}, "encoding": {"text": {"field": "t"}}},
      {"data": {"name": "txt"}, "transform": [{"filter": "datum.p === 'c' && datum.k === 'C0'"}], "mark": {"type": "text", "fontSize": 14, "align": "left", "color": "#5bb1d7"}, "encoding": {"text": {"field": "t"}}}
    ]
  },
  {
    "width": 157, "height": 130, "title": {"text": "d"},
    "encoding": {
      "x": {"field": "x", "type": "quantitative", "scale": {"domain": [0, 1330], "nice": false, "zero": false},
        "axis": {"title": "Binding energy (eV)", "format": "d", "values": [0,50,100,150,200,250,300,350,400,450,500,550,600,650,700,750,800,850,900,950,1000,1050,1100,1150,1200,1250,1300], "labelExpr": "datum.value % 400 === 0 ? datum.label : ''", "tickSize": {"condition": {"test": "datum.value % 400 === 0", "value": -5}, "value": -3}, "labelPadding": 12}},
      "y": {"field": "y", "type": "quantitative", "scale": {"domain": [0, 100], "nice": false}, "axis": {"title": "Intensity (a.u.)", "labels": false, "ticks": false, "titlePadding": 7}}
    },
    "layer": [
      {"data": {"name": "pd"}, "transform": [{"filter": "datum.s === 'CG'"}], "mark": {"type": "line", "color": "#e8363b", "strokeWidth": 1.5}},
      {"data": {"name": "pd"}, "transform": [{"filter": "datum.s === 'C0'"}], "mark": {"type": "line", "color": "#5bb1d7", "strokeWidth": 1.5}},
      {"data": {"name": "txt"}, "transform": [{"filter": "datum.p === 'd' && datum.k === 'ann'"}], "mark": {"type": "text", "fontSize": 12}, "encoding": {"text": {"field": "t"}}},
      {"data": {"name": "txt"}, "transform": [{"filter": "datum.p === 'd' && datum.k === 'CG'"}], "mark": {"type": "text", "fontSize": 17, "color": "#e8363b"}, "encoding": {"text": {"field": "t"}}},
      {"data": {"name": "txt"}, "transform": [{"filter": "datum.p === 'd' && datum.k === 'C0'"}], "mark": {"type": "text", "fontSize": 17, "color": "#5bb1d7"}, "encoding": {"text": {"field": "t"}}}
    ]
  },
  {
    "width": 155, "height": 132, "title": {"text": "e"},
    "encoding": {
      "x": {"field": "x", "type": "quantitative", "scale": {"domain": [924, 942.2], "reverse": true, "nice": false, "zero": false},
        "axis": {"title": "Binding Energy (eV)", "values": [924,925,926,927,928,929,930,931,932,933,934,935,936,937,938,939,940,941,942], "labelExpr": "datum.value % 4 === 0 ? datum.label : ''", "tickSize": {"condition": {"test": "datum.value % 4 === 0", "value": -5}, "value": -3}, "labelPadding": 11}},
      "y": {"field": "y", "type": "quantitative", "scale": {"domain": [0, 100], "nice": false}, "axis": {"title": "Intensity (a.u.)", "labels": false, "ticks": false, "titlePadding": 10}}
    },
    "layer": [
      {"data": {"name": "pe"}, "transform": [{"filter": "datum.s === 'c2'"}], "mark": {"type": "area", "interpolate": "monotone", "color": {"gradient": "linear", "x1": 0, "y1": 0, "x2": 0, "y2": 1, "stops": [{"offset": 0, "color": "#3f9cc8"}, {"offset": 1, "color": "#eaf6fb"}]}}, "encoding": {"y2": {"field": "b"}}},
      {"data": {"name": "pe"}, "transform": [{"filter": "datum.s === 'c1'"}], "mark": {"type": "area", "interpolate": "monotone", "color": {"gradient": "linear", "x1": 0, "y1": 0, "x2": 0, "y2": 1, "stops": [{"offset": 0, "color": "#e8363b"}, {"offset": 1, "color": "#fdf0f0"}]}}, "encoding": {"y2": {"field": "b"}}},
      {"data": {"name": "pe"}, "transform": [{"filter": "datum.s === 'c2'"}], "mark": {"type": "line", "interpolate": "monotone", "color": "#5bb1d7", "strokeWidth": 1}},
      {"data": {"name": "pe"}, "transform": [{"filter": "datum.s === 'c1'"}], "mark": {"type": "line", "interpolate": "monotone", "color": "#e8363b", "strokeWidth": 1.2}},
      {"data": {"name": "pe"}, "transform": [{"filter": "datum.s === 'bg'"}], "mark": {"type": "line", "interpolate": "monotone", "color": "#d9262c", "strokeWidth": 2}},
      {"data": {"name": "pe"}, "transform": [{"filter": "datum.s === 'env'"}], "mark": {"type": "line", "interpolate": "monotone", "color": "#1c2b4b", "strokeWidth": 2.6}},
      {"data": {"name": "pe"}, "transform": [{"filter": "datum.s === 'env'"}], "mark": {"type": "line", "interpolate": "monotone", "color": "#6cc0e0", "strokeWidth": 1.3}},
      {"data": {"name": "txt"}, "transform": [{"filter": "datum.p === 'e' && datum.k === 'lab'"}], "mark": {"type": "text", "fontSize": 15, "align": "left"}, "encoding": {"text": {"field": "t"}}},
      {"data": {"name": "txt"}, "transform": [{"filter": "datum.p === 'e' && datum.k === 'ann'"}], "mark": {"type": "text", "fontSize": 12}, "encoding": {"text": {"field": "t"}}},
      {"data": {"name": "arr"}, "transform": [{"filter": "datum.p === 'e'"}], "mark": {"type": "rule", "color": "black", "strokeWidth": 1.5}, "encoding": {"x2": {"field": "x2"}, "y2": {"field": "y2"}}},
      {"data": {"name": "arr"}, "transform": [{"filter": "datum.id === 'e1'"}], "mark": {"type": "point", "shape": "triangle", "filled": true, "color": "black", "opacity": 1, "size": 50, "angle": 69}},
      {"data": {"name": "arr"}, "transform": [{"filter": "datum.id === 'e2'"}], "mark": {"type": "point", "shape": "triangle", "filled": true, "color": "black", "opacity": 1, "size": 50, "angle": 305}}
    ]
  },
  {
    "width": 155, "height": 132, "title": {"text": "f"},
    "encoding": {
      "x": {"field": "x", "type": "quantitative", "scale": {"domain": [524.3, 540], "reverse": true, "nice": false, "zero": false},
        "axis": {"title": "Binding Energy (eV)", "values": [525,526,527,528,529,530,531,532,533,534,535,536,537,538,539,540], "labelExpr": "datum.value % 4 === 0 ? datum.label : ''", "tickSize": {"condition": {"test": "datum.value % 4 === 0", "value": -5}, "value": -3}, "labelPadding": 11}},
      "y": {"field": "y", "type": "quantitative", "scale": {"domain": [0, 100], "nice": false}, "axis": {"title": "Intensity (a.u.)", "labels": false, "ticks": false, "titlePadding": 10}}
    },
    "layer": [
      {"data": {"name": "pf"}, "transform": [{"filter": "datum.s === 'c1'"}], "mark": {"type": "area", "interpolate": "monotone", "color": {"gradient": "linear", "x1": 0, "y1": 0, "x2": 0, "y2": 1, "stops": [{"offset": 0, "color": "#e8363b"}, {"offset": 1, "color": "#fdf0f0"}]}}, "encoding": {"y2": {"field": "b"}}},
      {"data": {"name": "pf"}, "transform": [{"filter": "datum.s === 'c2'"}], "mark": {"type": "area", "interpolate": "monotone", "color": {"gradient": "linear", "x1": 0, "y1": 0, "x2": 0, "y2": 1, "stops": [{"offset": 0, "color": "#3f9cc8"}, {"offset": 1, "color": "#eaf6fb"}]}}, "encoding": {"y2": {"field": "b"}}},
      {"data": {"name": "pf"}, "transform": [{"filter": "datum.s === 'c1'"}], "mark": {"type": "line", "interpolate": "monotone", "color": "#e8363b", "strokeWidth": 1.2}},
      {"data": {"name": "pf"}, "transform": [{"filter": "datum.s === 'c2'"}], "mark": {"type": "line", "interpolate": "monotone", "color": "#5bb1d7", "strokeWidth": 1}},
      {"data": {"name": "pf"}, "transform": [{"filter": "datum.s === 'bg'"}], "mark": {"type": "line", "interpolate": "monotone", "color": "#d9262c", "strokeWidth": 2}},
      {"data": {"name": "pf"}, "transform": [{"filter": "datum.s === 'env'"}], "mark": {"type": "line", "interpolate": "monotone", "color": "#1c2b4b", "strokeWidth": 2.6}},
      {"data": {"name": "pf"}, "transform": [{"filter": "datum.s === 'env'"}], "mark": {"type": "line", "interpolate": "monotone", "color": "#6cc0e0", "strokeWidth": 1.3}},
      {"data": {"name": "txt"}, "transform": [{"filter": "datum.p === 'f' && datum.k === 'lab'"}], "mark": {"type": "text", "fontSize": 15, "align": "left"}, "encoding": {"text": {"field": "t"}}},
      {"data": {"name": "txt"}, "transform": [{"filter": "datum.p === 'f' && datum.k === 'ann'"}], "mark": {"type": "text", "fontSize": 12}, "encoding": {"text": {"field": "t"}}},
      {"data": {"name": "arr"}, "transform": [{"filter": "datum.p === 'f'"}], "mark": {"type": "rule", "color": "black", "strokeWidth": 1.5}, "encoding": {"x2": {"field": "x2"}, "y2": {"field": "y2"}}},
      {"data": {"name": "arr"}, "transform": [{"filter": "datum.id === 'f1'"}], "mark": {"type": "point", "shape": "triangle", "filled": true, "color": "black", "opacity": 1, "size": 50, "angle": 301}},
      {"data": {"name": "arr"}, "transform": [{"filter": "datum.id === 'f2'"}], "mark": {"type": "point", "shape": "triangle", "filled": true, "color": "black", "opacity": 1, "size": 50, "angle": 67}}
    ]
  },
  {
    "width": 151, "height": 132, "title": {"text": "g"},
    "encoding": {
      "x": {"field": "x", "type": "quantitative", "scale": {"domain": [281, 290.1], "reverse": true, "nice": false, "zero": false},
        "axis": {"title": "Binding Energy (eV)", "format": ".0f", "values": [281,281.5,282,282.5,283,283.5,284,284.5,285,285.5,286,286.5,287,287.5,288,288.5,289,289.5,290], "labelExpr": "datum.value % 2 === 0 ? datum.label : ''", "tickSize": {"condition": {"test": "datum.value % 2 === 0", "value": -5}, "value": -3}, "labelPadding": 11}},
      "y": {"field": "y", "type": "quantitative", "scale": {"domain": [0, 100], "nice": false}, "axis": {"title": "Intensity (a.u.)", "labels": false, "ticks": false, "titlePadding": 10}}
    },
    "layer": [
      {"data": {"name": "pg"}, "transform": [{"filter": "datum.s === 'c3'"}], "mark": {"type": "area", "interpolate": "monotone", "color": {"gradient": "linear", "x1": 0, "y1": 0, "x2": 0, "y2": 1, "stops": [{"offset": 0, "color": "#f0a0a2"}, {"offset": 1, "color": "#fcecec"}]}}, "encoding": {"y2": {"field": "b"}}},
      {"data": {"name": "pg"}, "transform": [{"filter": "datum.s === 'c2'"}], "mark": {"type": "area", "interpolate": "monotone", "color": {"gradient": "linear", "x1": 0, "y1": 0, "x2": 0, "y2": 1, "stops": [{"offset": 0, "color": "#8cc8e4"}, {"offset": 1, "color": "#e6f4fa"}]}}, "encoding": {"y2": {"field": "b"}}},
      {"data": {"name": "pg"}, "transform": [{"filter": "datum.s === 'c1'"}], "mark": {"type": "area", "interpolate": "monotone", "color": {"gradient": "linear", "x1": 0, "y1": 0, "x2": 0, "y2": 1, "stops": [{"offset": 0, "color": "#e8363b"}, {"offset": 1, "color": "#fdf0f0"}]}}, "encoding": {"y2": {"field": "b"}}},
      {"data": {"name": "pg"}, "transform": [{"filter": "datum.s === 'c3'"}], "mark": {"type": "line", "interpolate": "monotone", "color": "#e98f92", "strokeWidth": 1}},
      {"data": {"name": "pg"}, "transform": [{"filter": "datum.s === 'c2'"}], "mark": {"type": "line", "interpolate": "monotone", "color": "#5bb1d7", "strokeWidth": 1}},
      {"data": {"name": "pg"}, "transform": [{"filter": "datum.s === 'c1'"}], "mark": {"type": "line", "interpolate": "monotone", "color": "#e8363b", "strokeWidth": 2}},
      {"data": {"name": "pg"}, "transform": [{"filter": "datum.s === 'bg'"}], "mark": {"type": "line", "interpolate": "monotone", "color": "#d9262c", "strokeWidth": 2}},
      {"data": {"name": "pg"}, "transform": [{"filter": "datum.s === 'env'"}], "mark": {"type": "line", "interpolate": "monotone", "color": "#1c2b4b", "strokeWidth": 1.3}},
      {"data": {"name": "txt"}, "transform": [{"filter": "datum.p === 'g' && datum.k === 'lab'"}], "mark": {"type": "text", "fontSize": 15, "align": "left"}, "encoding": {"text": {"field": "t"}}},
      {"data": {"name": "txt"}, "transform": [{"filter": "datum.p === 'g' && datum.k === 'ann'"}], "mark": {"type": "text", "fontSize": 12}, "encoding": {"text": {"field": "t"}}},
      {"data": {"name": "arr"}, "transform": [{"filter": "datum.p === 'g'"}], "mark": {"type": "rule", "color": "black", "strokeWidth": 1.5}, "encoding": {"x2": {"field": "x2"}, "y2": {"field": "y2"}}},
      {"data": {"name": "arr"}, "transform": [{"filter": "datum.id === 'g1'"}], "mark": {"type": "point", "shape": "triangle", "filled": true, "color": "black", "opacity": 1, "size": 50, "angle": 33}},
      {"data": {"name": "arr"}, "transform": [{"filter": "datum.id === 'g2'"}], "mark": {"type": "point", "shape": "triangle", "filled": true, "color": "black", "opacity": 1, "size": 50, "angle": 0}},
      {"data": {"name": "arr"}, "transform": [{"filter": "datum.id === 'g3'"}], "mark": {"type": "point", "shape": "triangle", "filled": true, "color": "black", "opacity": 1, "size": 50, "angle": 320}}
    ]
  },
  {
    "width": 157, "height": 132, "title": {"text": "h"},
    "encoding": {
      "x": {"field": "x", "type": "quantitative", "scale": {"domain": [392.5, 406.9], "reverse": true, "nice": false, "zero": false},
        "axis": {"title": "Binding Energy (eV)", "values": [393,394,395,396,397,398,399,400,401,402,403,404,405,406], "labelExpr": "datum.value % 4 === 0 ? datum.label : ''", "tickSize": {"condition": {"test": "datum.value % 4 === 0", "value": -5}, "value": -3}, "labelPadding": 11}},
      "y": {"field": "y", "type": "quantitative", "scale": {"domain": [0, 100], "nice": false}, "axis": {"title": "Intensity (a.u.)", "labels": false, "ticks": false, "titlePadding": 10}}
    },
    "layer": [
      {"data": {"name": "ph"}, "transform": [{"filter": "datum.s === 'c2'"}], "mark": {"type": "area", "interpolate": "monotone", "color": {"gradient": "linear", "x1": 0, "y1": 0, "x2": 0, "y2": 1, "stops": [{"offset": 0, "color": "#3f9cc8"}, {"offset": 1, "color": "#eaf6fb"}]}}, "encoding": {"y2": {"field": "b"}}},
      {"data": {"name": "ph"}, "transform": [{"filter": "datum.s === 'c1'"}], "mark": {"type": "area", "interpolate": "monotone", "color": {"gradient": "linear", "x1": 0, "y1": 0, "x2": 0, "y2": 1, "stops": [{"offset": 0, "color": "#e8363b"}, {"offset": 1, "color": "#fdf0f0"}]}}, "encoding": {"y2": {"field": "b"}}},
      {"data": {"name": "ph"}, "transform": [{"filter": "datum.s === 'c2'"}], "mark": {"type": "line", "interpolate": "monotone", "color": "#5bb1d7", "strokeWidth": 1}},
      {"data": {"name": "ph"}, "transform": [{"filter": "datum.s === 'c1'"}], "mark": {"type": "line", "interpolate": "monotone", "color": "#e8363b", "strokeWidth": 1.5}},
      {"data": {"name": "ph"}, "transform": [{"filter": "datum.s === 'bg'"}], "mark": {"type": "line", "color": "#d9262c", "strokeWidth": 2}},
      {"data": {"name": "ph"}, "transform": [{"filter": "datum.s === 'raw'"}], "mark": {"type": "line", "color": "#1c2b4b", "strokeWidth": 1.6}},
      {"data": {"name": "ph"}, "transform": [{"filter": "datum.s === 'env'"}], "mark": {"type": "line", "interpolate": "monotone", "color": "#6cc0e0", "strokeWidth": 1.3}},
      {"data": {"name": "txt"}, "transform": [{"filter": "datum.p === 'h' && datum.k === 'lab'"}], "mark": {"type": "text", "fontSize": 15, "align": "left"}, "encoding": {"text": {"field": "t"}}},
      {"data": {"name": "txt"}, "transform": [{"filter": "datum.p === 'h' && datum.k === 'ann'"}], "mark": {"type": "text", "fontSize": 12}, "encoding": {"text": {"field": "t"}}},
      {"data": {"name": "arr"}, "transform": [{"filter": "datum.p === 'h'"}], "mark": {"type": "rule", "color": "black", "strokeWidth": 1.5}, "encoding": {"x2": {"field": "x2"}, "y2": {"field": "y2"}}},
      {"data": {"name": "arr"}, "transform": [{"filter": "datum.id === 'h1'"}], "mark": {"type": "point", "shape": "triangle", "filled": true, "color": "black", "opacity": 1, "size": 50, "angle": 33}},
      {"data": {"name": "arr"}, "transform": [{"filter": "datum.id === 'h2'"}], "mark": {"type": "point", "shape": "triangle", "filled": true, "color": "black", "opacity": 1, "size": 50, "angle": 307}}
    ]
  }
]
}
